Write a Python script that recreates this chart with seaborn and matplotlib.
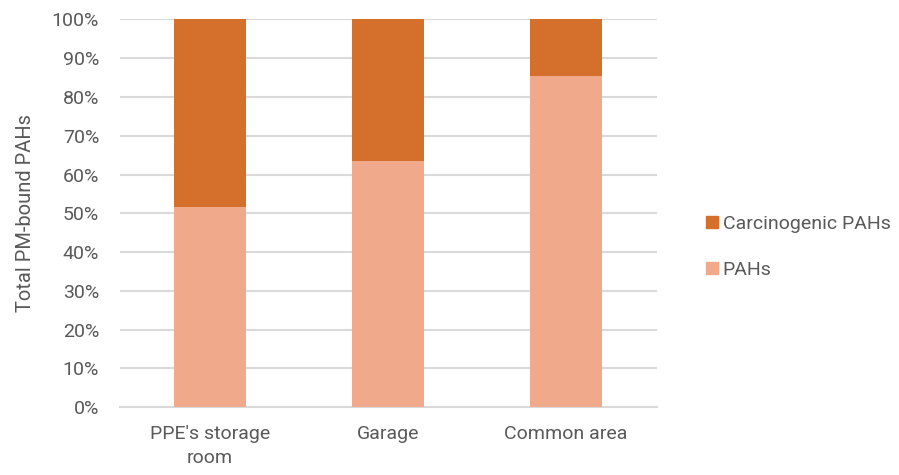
import matplotlib
matplotlib.use('Agg')
import matplotlib.pyplot as plt
import matplotlib.patches as mpatches
import seaborn as sns
import pandas as pd

# Data (percent of total PM-bound PAHs)
locations = ["PPE's storage\nroom", 'Garage', 'Common area']
pahs = [51.6, 63.5, 85.4]
carcinogenic = [48.4, 36.5, 14.6]
y_ticks = list(range(0, 101, 10))

sns.set_style('white')
plt.rcParams['font.family'] = ['Roboto', 'DejaVu Sans']

df = pd.DataFrame({'location': locations, 'PAHs': pahs, 'Carcinogenic PAHs': carcinogenic})
df['total'] = df['PAHs'] + df['Carcinogenic PAHs']

dark = '#D4702B'
light = '#F0A98B'
text_color = '#595959'

fig = plt.figure(figsize=(8.99, 4.75), dpi=100)
ax = fig.add_axes([0.1335, 0.143, 0.597, 0.816])

sns.barplot(data=df, x='location', y='total', color=dark, width=0.4, saturation=1,
            linewidth=0, ax=ax, zorder=3)
sns.barplot(data=df, x='location', y='PAHs', color=light, width=0.4, saturation=1,
            linewidth=0, ax=ax, zorder=4)

ax.set_ylim(0, 100)
ax.set_yticks(y_ticks)
ax.set_yticklabels([f'{t}%' for t in y_ticks])
ax.yaxis.grid(True, color='#D9D9D9', linewidth=1.5, zorder=0)
ax.set_axisbelow(True)
for s in ['top', 'right', 'left']:
    ax.spines[s].set_visible(False)
ax.spines['bottom'].set_color('#D9D9D9')
ax.spines['bottom'].set_linewidth(1.5)
ax.tick_params(axis='both', length=0, labelsize=14, labelcolor=text_color)
ax.tick_params(axis='x', pad=13)
ax.tick_params(axis='y', pad=15)
for lbl in ax.get_xticklabels():
    lbl.set_linespacing(1.45)
ax.set_xlabel('')
ax.set_ylabel('Total PM-bound PAHs', fontsize=14.5, color=text_color, labelpad=12)
ax.set_xlim(-0.505, 2.51)

handles = [mpatches.Patch(color=dark, label='Carcinogenic PAHs'),
           mpatches.Patch(color=light, label='PAHs')]
fig.legend(handles=handles, loc='center left', bbox_to_anchor=(0.766, 0.48),
           frameon=False, fontsize=14, labelcolor=text_color,
           handlelength=0.6, handleheight=0.6, handletextpad=0.25, labelspacing=1.45)

fig.savefig('out.png', dpi=100)
